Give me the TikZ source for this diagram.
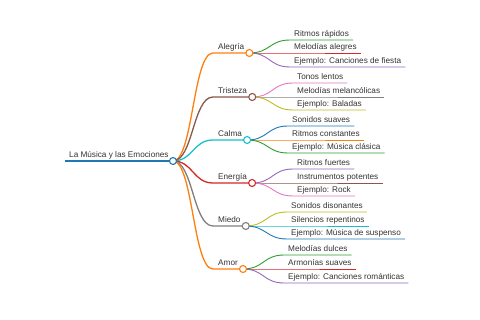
\documentclass[tikz,border=0pt]{standalone}
\usepackage{fontspec}
\setmainfont{Liberation Sans}
\definecolor{cBlue}{HTML}{1F77B4}
\definecolor{cOrange}{HTML}{FF7F0E}
\definecolor{cGreen}{HTML}{2CA02C}
\definecolor{cRed}{HTML}{D62728}
\definecolor{cPurple}{HTML}{9467BD}
\definecolor{cBrown}{HTML}{8C564B}
\definecolor{cPink}{HTML}{E377C2}
\definecolor{cGray}{HTML}{7F7F7F}
\definecolor{cOlive}{HTML}{BCBD22}
\definecolor{cCyan}{HTML}{17BECF}
\definecolor{txt}{HTML}{333333}
\begin{document}
\begin{tikzpicture}[x=1pt,y=-1pt,
  lbl/.style={anchor=south west, inner ysep=3pt, text depth=0pt, text=txt,
    font=\fontsize{8.2}{10}\selectfont},
  rootn/.style={lbl, inner xsep=4pt},
  brn/.style={lbl, inner xsep=5pt},
  leafn/.style={lbl, inner xsep=4pt},
  dot/.style={circle, fill=white, line width=1.1pt, minimum size=7pt, inner sep=0pt},
  rootl/.style={line width=1.8pt},
  brl/.style={line width=1.3pt},
  leafl/.style={line width=0.9pt},
  lnk/.style={}]
\useasboundingbox (0,0) rectangle (480,320);

% root
\node[rootn] (root) at (65,161) {La Música y las Emociones};
\coordinate (p0) at (173,161);
\draw[cBlue, rootl] (root.south west) -- (p0);

% branches
\node[brn] (b1) at (213,53) {Alegría};
\node[brn] (b2) at (213,97) {Tristeza};
\node[brn] (b3) at (213,140) {Calma};
\node[brn] (b4) at (213,183) {Energía};
\node[brn] (b5) at (213,226) {Miedo};
\node[brn] (b6) at (213,269) {Amor};
\coordinate (p1) at (b1.south east);
\coordinate (p2) at (b2.south east);
\coordinate (p3) at (b3.south east);
\coordinate (p4) at (b4.south east);
\coordinate (p5) at (b5.south east);
\coordinate (p6) at (b6.south east);

\draw[cOrange, brl] (p0) .. controls +(20,0) and +(-20,0) .. (b1.south west) -- (p1);
\draw[cBrown, brl] (p0) .. controls +(20,0) and +(-20,0) .. (b2.south west) -- (p2);
\draw[cCyan, brl] (p0) .. controls +(20,0) and +(-20,0) .. (b3.south west) -- (p3);
\draw[cRed, brl] (p0) .. controls +(20,0) and +(-20,0) .. (b4.south west) -- (p4);
\draw[cGray, brl] (p0) .. controls +(20,0) and +(-20,0) .. (b5.south west) -- (p5);
\draw[cOrange, brl] (p0) .. controls +(20,0) and +(-20,0) .. (b6.south west) -- (p6);

% leaves: Alegría
\node[leafn] (l11) at (290,40) {Ritmos rápidos};
\node[leafn] (l12) at (290,53) {Melodías alegres};
\node[leafn] (l13) at (290,67) {Ejemplo: Canciones de fiesta};
\draw[cGreen, leafl] (p1) .. controls +(21,0) and +(-21,0) .. (l11.south west) -- (l11.south east);
\draw[cRed, leafl] (p1) .. controls +(21,0) and +(-21,0) .. (l12.south west) -- (l12.south east);
\draw[cPurple, leafl] (p1) .. controls +(21,0) and +(-21,0) .. (l13.south west) -- (l13.south east);

% Tristeza
\node[leafn] (l21) at (293,83) {Tonos lentos};
\node[leafn] (l22) at (293,97) {Melodías melancólicas};
\node[leafn] (l23) at (293,110) {Ejemplo: Baladas};
\draw[cPink, leafl] (p2) .. controls +(21,0) and +(-21,0) .. (l21.south west) -- (l21.south east);
\draw[cGray, leafl] (p2) .. controls +(21,0) and +(-21,0) .. (l22.south west) -- (l22.south east);
\draw[cOlive, leafl] (p2) .. controls +(21,0) and +(-21,0) .. (l23.south west) -- (l23.south east);

% Calma
\node[leafn] (l31) at (288,126) {Sonidos suaves};
\node[leafn] (l32) at (288,140) {Ritmos constantes};
\node[leafn] (l33) at (288,153) {Ejemplo: Música clásica};
\draw[cBlue, leafl] (p3) .. controls +(21,0) and +(-21,0) .. (l31.south west) -- (l31.south east);
\draw[cOrange, leafl] (p3) .. controls +(21,0) and +(-21,0) .. (l32.south west) -- (l32.south east);
\draw[cGreen, leafl] (p3) .. controls +(21,0) and +(-21,0) .. (l33.south west) -- (l33.south east);

% Energía
\node[leafn] (l41) at (293,169) {Ritmos fuertes};
\node[leafn] (l42) at (293,183) {Instrumentos potentes};
\node[leafn] (l43) at (293,196) {Ejemplo: Rock};
\draw[cPurple, leafl] (p4) .. controls +(21,0) and +(-21,0) .. (l41.south west) -- (l41.south east);
\draw[cBrown, leafl] (p4) .. controls +(21,0) and +(-21,0) .. (l42.south west) -- (l42.south east);
\draw[cPink, leafl] (p4) .. controls +(21,0) and +(-21,0) .. (l43.south west) -- (l43.south east);

% Miedo
\node[leafn] (l51) at (287,212) {Sonidos disonantes};
\node[leafn] (l52) at (287,226) {Silencios repentinos};
\node[leafn] (l53) at (287,239) {Ejemplo: Música de suspenso};
\draw[cOlive, leafl] (p5) .. controls +(21,0) and +(-21,0) .. (l51.south west) -- (l51.south east);
\draw[cCyan, leafl] (p5) .. controls +(21,0) and +(-21,0) .. (l52.south west) -- (l52.south east);
\draw[cBlue, leafl] (p5) .. controls +(21,0) and +(-21,0) .. (l53.south west) -- (l53.south east);

% Amor
\node[leafn] (l61) at (284,255) {Melodías dulces};
\node[leafn] (l62) at (284,269) {Armonías suaves};
\node[leafn] (l63) at (284,283) {Ejemplo: Canciones románticas};
\draw[cGreen, leafl] (p6) .. controls +(21,0) and +(-21,0) .. (l61.south west) -- (l61.south east);
\draw[cRed, leafl] (p6) .. controls +(21,0) and +(-21,0) .. (l62.south west) -- (l62.south east);
\draw[cPurple, leafl] (p6) .. controls +(21,0) and +(-21,0) .. (l63.south west) -- (l63.south east);

% circles
\node[dot, draw=cBlue] (d0) at (p0) {};
\node[dot, draw=cOrange] (d1) at (p1) {};
\node[dot, draw=cBrown] (d2) at (p2) {};
\node[dot, draw=cCyan] (d3) at (p3) {};
\node[dot, draw=cRed] (d4) at (p4) {};
\node[dot, draw=cGray] (d5) at (p5) {};
\node[dot, draw=cOrange] (d6) at (p6) {};
\end{tikzpicture}
\end{document}
